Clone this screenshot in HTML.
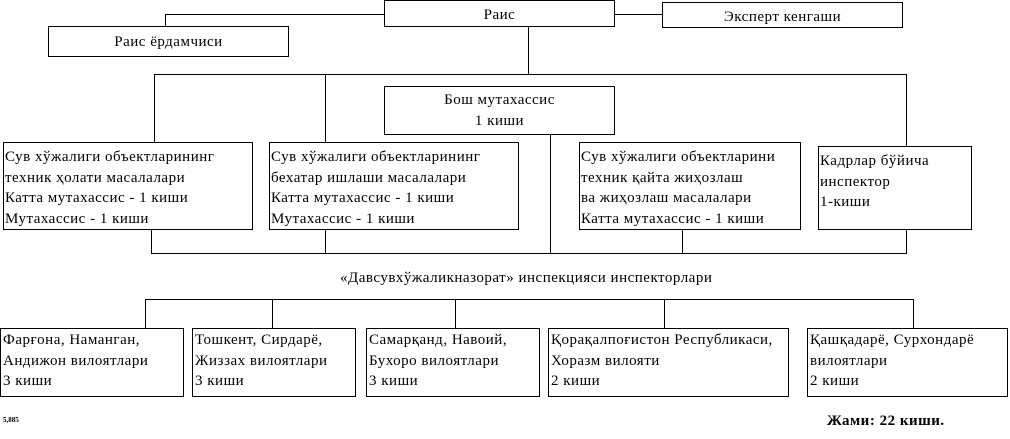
<!DOCTYPE html>
<html><head><meta charset="utf-8"><style>
body{margin:0;width:1010px;height:439px;background:#fff;position:relative;overflow:hidden;font-family:"Liberation Serif",serif;font-size:15px;letter-spacing:0.5px;color:#000}
.b{position:absolute;border:1px solid #000;box-sizing:border-box;background:#fff;line-height:20.5px;white-space:nowrap}
.c{text-align:center}
.h,.v{position:absolute;background:#000}
.h{height:1px}.v{width:1px}
.t{position:absolute;white-space:nowrap}
</style></head><body>
<div class="h" style="left:165px;top:14px;width:220px"></div>
<div class="v" style="left:165px;top:14px;height:13px"></div>
<div class="h" style="left:614px;top:14px;width:48px"></div>
<div class="v" style="left:528px;top:26px;height:48px"></div>
<div class="h" style="left:154px;top:74px;width:753px"></div>
<div class="v" style="left:154px;top:74px;height:68px"></div>
<div class="v" style="left:325px;top:74px;height:68px"></div>
<div class="v" style="left:906px;top:74px;height:72px"></div>
<div class="v" style="left:550px;top:134px;height:119px"></div>
<div class="v" style="left:151px;top:229px;height:24px"></div>
<div class="v" style="left:325px;top:229px;height:24px"></div>
<div class="v" style="left:682px;top:229px;height:24px"></div>
<div class="v" style="left:906px;top:229px;height:24px"></div>
<div class="h" style="left:151px;top:253px;width:756px"></div>
<div class="h" style="left:145px;top:299px;width:769px"></div>
<div class="v" style="left:145px;top:299px;height:29px"></div>
<div class="v" style="left:272px;top:299px;height:29px"></div>
<div class="v" style="left:455px;top:299px;height:29px"></div>
<div class="v" style="left:664px;top:299px;height:29px"></div>
<div class="v" style="left:913px;top:299px;height:29px"></div>
<div class="b c" style="left:384px;top:0;width:231px;height:27px;line-height:28px">Раис</div>
<div class="b c" style="left:48px;top:26px;width:241px;height:31px;line-height:30px">Раис ёрдамчиси</div>
<div class="b c" style="left:662px;top:2px;width:241px;height:26px;line-height:28px">Эксперт кенгаши</div>
<div class="b c" style="left:384px;top:86px;width:231px;height:49px;padding-top:3px">Бош мутахассис<br>1 киши</div>
<div class="b" style="left:3px;top:142px;width:250px;height:88px;padding:4px 0 0 1px">Сув хўжалиги объектларининг<br>техник ҳолати масалалари<br>Катта мутахассис - 1 киши<br>Мутахассис - 1 киши</div>
<div class="b" style="left:269px;top:142px;width:250px;height:88px;padding:4px 0 0 1px">Сув хўжалиги объектларининг<br>бехатар ишлаши масалалари<br>Катта мутахассис - 1 киши<br>Мутахассис - 1 киши</div>
<div class="b" style="left:579px;top:142px;width:222px;height:88px;padding:4px 0 0 1px">Сув хўжалиги объектларини<br>техник қайта жиҳозлаш<br>ва жиҳозлаш масалалари<br>Катта мутахассис - 1 киши</div>
<div class="b" style="left:818px;top:146px;width:154px;height:84px;padding:4px 0 0 1px">Кадрлар бўйича<br>инспектор<br>1-киши</div>
<div class="t" style="left:340px;top:270px">«Давсувхўжаликназорат» инспекцияси инспекторлари</div>
<div class="b" style="left:0;top:328px;width:184px;height:69px;padding:1px 0 0 2px">Фарғона, Наманган,<br>Андижон вилоятлари<br>3 киши</div>
<div class="b" style="left:192px;top:328px;width:164px;height:69px;padding:1px 0 0 2px">Тошкент, Сирдарё,<br>Жиззах вилоятлари<br>3 киши</div>
<div class="b" style="left:366px;top:328px;width:174px;height:69px;padding:1px 0 0 2px">Самарқанд, Навоий,<br>Бухоро вилоятлари<br>3 киши</div>
<div class="b" style="left:548px;top:328px;width:241px;height:69px;padding:1px 0 0 2px">Қорақалпоғистон Республикаси,<br>Хоразм вилояти<br>2 киши</div>
<div class="b" style="left:807px;top:328px;width:201px;height:69px;padding:1px 0 0 2px">Қашқадарё, Сурхондарё<br>вилоятлари<br>2 киши</div>
<div class="t" style="left:3px;top:416px;font-size:7px;font-weight:bold;letter-spacing:0">5,885</div>
<div class="t" style="left:827px;top:413px;font-weight:bold;font-size:15px">Жами: 22 киши.</div>
</body></html>
